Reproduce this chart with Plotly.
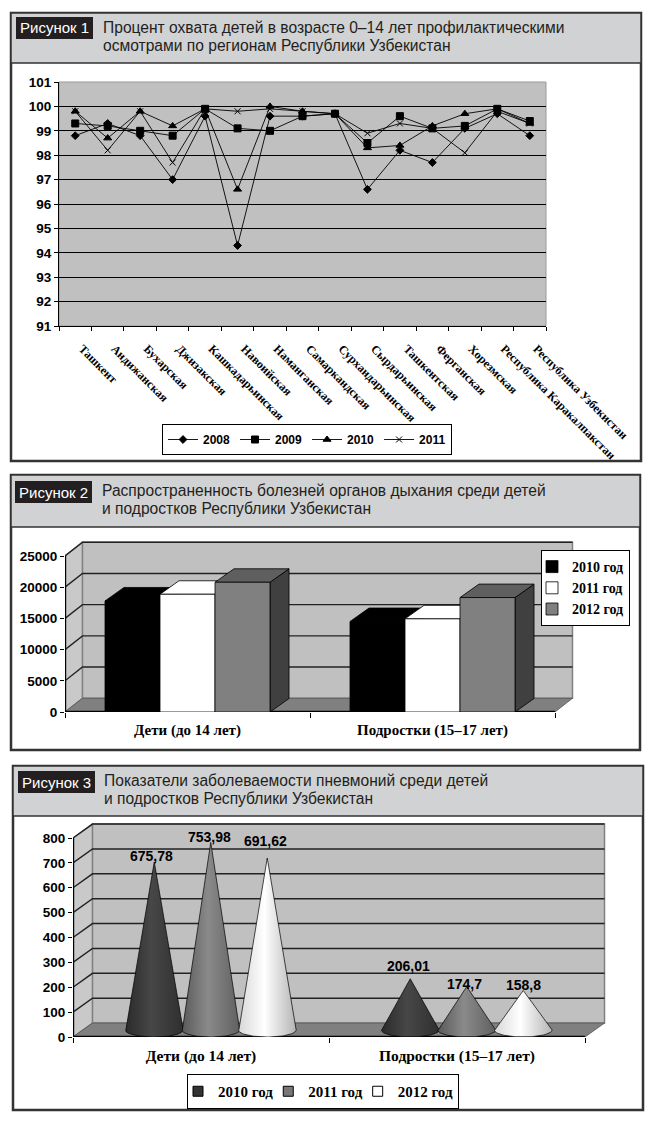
import numpy as np
import plotly.graph_objects as go

W, H = 651, 1121

# ---------- data ----------
regions = ["Ташкент", "Андижанская", "Бухарская", "Джизакская", "Кашкадарьинская",
           "Навоийская", "Наманганская", "Самаркандская", "Сурхандарьинская",
           "Сырдарьинская", "Ташкентская", "Ферганская", "Хорезмская",
           "Республика Каракалпакстан", "Республика Узбекистан"]
cov_2008 = [98.8, 99.3, 98.8, 97.0, 99.6, 94.3, 99.6, 99.6, 99.7, 96.6, 98.2, 97.7, 99.1, 99.7, 98.8]
cov_2009 = [99.3, 99.2, 99.0, 98.8, 99.9, 99.1, 99.0, 99.6, 99.7, 98.5, 99.6, 99.1, 99.2, 99.9, 99.4]
cov_2010 = [99.8, 98.7, 99.8, 99.2, 99.9, 96.6, 100.0, 99.8, 99.7, 98.3, 98.4, 99.2, 99.7, 99.9, 99.3]
cov_2011 = [99.8, 98.2, 99.8, 97.7, 99.9, 99.8, 99.9, 99.8, 99.7, 98.9, 99.3, 99.1, 98.1, 99.8, 99.3]
cov_ticks = list(range(91, 102))

groups = ["Дети (до 14 лет)", "Подростки (15–17 лет)"]
resp_2010 = [17800, 14500]
resp_2011 = [18870, 14930]
resp_2012 = [20790, 18340]
resp_ticks = [0, 5000, 10000, 15000, 20000, 25000]

pneu_2010 = [675.78, 206.01]
pneu_2011 = [753.98, 174.7]
pneu_2012 = [691.62, 158.8]
pneu_labels = [["675,78", "206,01"], ["753,98", "174,7"], ["691,62", "158,8"]]
pneu_ticks = list(range(0, 801, 100))

SANS = "Liberation Sans Narrow, Arial Narrow, Liberation Sans"
SERIF = "Liberation Serif"
HEADER = "#d1d2d4"
FRAME = "#333333"

def xd(a, b): return [a / W, b / W]
def yd(top, bottom): return [1 - bottom / H, 1 - top / H]

fig = go.Figure()
shapes, annos = [], []

# ---------- panels ----------
panels = [
    dict(box=(11, 13, 641, 461), head=63, badge=(16, 17, 93, 39), label="Рисунок 1",
         title=["Процент охвата детей в возрасте 0–14 лет профилактическими",
                "осмотрами по регионам Республики Узбекистан"], tx=101, ty=(28, 46)),
    dict(box=(11, 475, 640, 750), head=527, badge=(15, 481, 92, 503), label="Рисунок 2",
         title=["Распространенность болезней органов дыхания среди детей",
                "и подростков Республики Узбекистан"], tx=100, ty=(490, 509)),
    dict(box=(13, 766, 643, 1110), head=816, badge=(18, 771, 95, 793), label="Рисунок 3",
         title=["Показатели заболеваемости пневмоний среди детей",
                "и подростков Республики Узбекистан"], tx=102, ty=(780, 798)),
]
def rect(x0, y0, x1, y1, fill, line=None, lw=0):
    shapes.append(dict(type="rect", xref="paper", yref="paper", layer="below",
                       x0=x0 / W, x1=x1 / W, y0=1 - y0 / H, y1=1 - y1 / H,
                       fillcolor=fill, line=dict(color=line or fill, width=lw)))
for p in panels:
    x0, y0, x1, y1 = p["box"]
    rect(x0, y0, x1, y1, "white", FRAME, 2.5)
    rect(x0, y0, x1, p["head"], HEADER, FRAME, 1.5)
    rect(*p["badge"], "#231f20")
    annos.append(dict(xref="paper", yref="paper", x=(p["badge"][0] + p["badge"][2]) / 2 / W,
                      y=1 - (p["badge"][1] + p["badge"][3]) / 2 / H, text=p["label"], showarrow=False,
                      font=dict(family=SANS, size=15, color="white"), xanchor="center", yanchor="middle"))
    for t, ty in zip(p["title"], p["ty"]):
        annos.append(dict(xref="paper", yref="paper", x=p["tx"] / W, y=1 - ty / H, text=t, showarrow=False,
                          font=dict(family=SANS, size=15.6, color="#231f20"), xanchor="left", yanchor="middle"))

# ---------- figure 1 ----------
shapes.append(dict(type="rect", xref="x domain", yref="y domain", x0=0, x1=1, y0=0, y1=1,
                   fillcolor="#c0c0c0", line=dict(color="#999999", width=1), layer="below"))
for name, vals, sym, size in [("2008", cov_2008, "diamond", 6), ("2009", cov_2009, "square", 7),
                              ("2010", cov_2010, "triangle-up", 7), ("2011", cov_2011, "x-thin", 6)]:
    fig.add_trace(go.Scatter(x=list(range(len(regions))), y=vals, name=name, mode="lines+markers",
                             line=dict(color="black", width=0.9),
                             marker=dict(symbol=sym, size=size, color="black",
                                         line=dict(color="black", width=1)),
                             xaxis="x", yaxis="y", legend="legend"))

# ---------- helpers for faux 3-D ----------
def poly(xs, ys, fill, line="black", lw=0.8, xa="x2", ya="y2", **kw):
    fig.add_trace(go.Scatter(x=list(xs) + [xs[0]], y=list(ys) + [ys[0]], mode="lines", fill="toself",
                             fillcolor=fill, line=dict(color=line, width=lw), showlegend=False,
                             hoverinfo="skip", xaxis=xa, yaxis=ya, **kw))
def seg(xs, ys, color="#222222", lw=1.4, xa="x2", ya="y2"):
    fig.add_trace(go.Scatter(x=xs, y=ys, mode="lines", line=dict(color=color, width=lw), showlegend=False,
                             hoverinfo="skip", xaxis=xa, yaxis=ya))

def room(ticks, top, dx, dy, xa, ya):
    poly([0, dx, dx, 0], [0, dy, top + dy, top], "#c9c9c9", "#808080", 1.2, xa, ya)
    poly([dx, 2 + dx, 2 + dx, dx], [dy, dy, top + dy, top + dy], "#c0c0c0", "#808080", 1.5, xa, ya)
    for t in ticks[1:]:
        seg([0, dx, 2 + dx], [t, t + dy, t + dy], "#222222", 1.4, xa, ya)
    poly([0, 2, 2 + dx, dx], [0, 0, dy, dy], "#808080", "#555555", 0.8, xa, ya)
    seg([0, 0], [0, top], "black", 2.4, xa, ya)
    seg([0, 2], [0, 0], "black", 2.4, xa, ya)

# ---------- figure 2 ----------
R_DX, R_DY = 0.0714, 2200
B_DX, B_DY, B_W = 0.0776, 2160, 0.2245
room(resp_ticks, 25000, R_DX, R_DY, "x2", "y2")
series2 = [("2010 год", resp_2010, "black", "black", "black"),
           ("2011 год", resp_2011, "white", "white", "white"),
           ("2012 год", resp_2012, "#808080", "#5f5f5f", "#404040")]
for k, (name, vals, front, topc, sidec) in enumerate(series2):
    for g, v in enumerate(vals):
        left = g + 0.5 + (k - 1.5) * B_W
        right = left + B_W
        poly([right, right + B_DX, right + B_DX, right], [0, B_DY, v + B_DY, v], sidec)
        poly([left, right, right + B_DX, left + B_DX], [v, v, v + B_DY, v + B_DY], topc)
for k, (name, vals, front, topc, sidec) in enumerate(series2):
    fig.add_trace(go.Bar(x=[0.5, 1.5], y=vals, name=name, width=B_W,
                         marker=dict(color=front, line=dict(color="black", width=0.8)),
                         offset=(k - 1.5) * B_W, xaxis="x3", yaxis="y3", legend="legend2"))

# ---------- figure 3 ----------
P_DX, P_DY = 0.0762, 56
C_STEP, C_HALF, C_BASE, C_ELL = 0.2207, 0.113, 28, 28
room(pneu_ticks, 800, P_DX, P_DY, "x4", "y4")
t = np.linspace(0, np.pi, 41)
scales = [["#2b2b2b", "#474747", "#2f2f2f"], ["#5a5a5a", "#8a8a8a", "#606060"], ["#d8d8d8", "#ffffff", "#b4b4b4"]]
label_up = [[-4, 3], [-5, -7], [7, -4]]
label_dx = [[-3, -2], [-1, -2], [-2, 0]]
series3 = [("2010 год", pneu_2010, "#333333"), ("2011 год", pneu_2011, "#777777"), ("2012 год", pneu_2012, "#ffffff")]
for k, (name, vals, col) in enumerate(series3):
    for g, v in enumerate(vals):
        c = g + 0.5 + P_DX / 2 + (k - 1) * C_STEP
        ex = c - C_HALF * np.cos(t)
        ey = C_BASE - C_ELL * np.sin(t)
        xs = [c] + list(ex)
        ys = [v + C_BASE] + list(ey)
        cs = scales[k]
        fig.add_trace(go.Scatter(x=xs + [c], y=ys + [v + C_BASE], mode="lines", fill="toself",
                                 fillgradient=dict(type="horizontal",
                                                   colorscale=[[0, cs[0]], [0.45, cs[1]], [1, cs[2]]]),
                                 line=dict(color="black", width=0.7), showlegend=False, hoverinfo="skip",
                                 xaxis="x4", yaxis="y4"))
        annos.append(dict(xref="x4", yref="y4", x=c, y=v + C_BASE, text=pneu_labels[k][g], showarrow=False,
                          xanchor="center", yanchor="bottom", yshift=label_up[k][g], xshift=label_dx[k][g],
                          font=dict(family=SANS, size=14, color="black", weight="bold")))
for name, vals, col in series3:
    fig.add_trace(go.Scatter(x=[None], y=[None], mode="markers", name=name, xaxis="x4", yaxis="y4", legend="legend3",
                             marker=dict(symbol="square", size=10, color=col, line=dict(color="black", width=1))))

# ---------- layout ----------
tickfont = dict(family=SANS, size=13.5, color="black", weight="bold")
def val_axis(domain, rng, ticks, anchor, **kw):
    return dict(domain=domain, range=rng, tickvals=ticks, ticktext=[str(v) for v in ticks], ticks="outside",
                ticklen=4, tickcolor="black", showgrid=False, zeroline=False, showline=False, anchor=anchor,
                tickfont=tickfont, fixedrange=True, **kw)
def cat_axis(domain, rng, anchor, size):
    return dict(domain=domain, range=rng, tickvals=[0.5, 1.5], ticktext=groups, ticks="", showgrid=False,
                zeroline=False, showline=False, anchor=anchor, fixedrange=True,
                tickfont=dict(family=SERIF, size=size, color="black", weight="bold"), ticklabelstandoff=7,
                minor=dict(ticks="outside", tick0=0, dtick=1, ticklen=5, tickcolor="black"))

X2_RANGE = [0, 2 * 510 / 490]
Y2_RANGE = [0, 25000 * 172 / 156]
X4_RANGE = [0, 2 * 535 / 512]
Y4_RANGE = [0, 800 * 216 / 199]

fig.update_layout(
    width=W, height=H, margin=dict(l=0, r=0, t=0, b=0, autoexpand=False), paper_bgcolor="white",
    plot_bgcolor="rgba(0,0,0,0)", shapes=shapes, annotations=annos, barmode="overlay", hovermode=False,
    xaxis=dict(domain=xd(59, 546), range=[-0.5, 14.5], tickvals=list(range(15)), ticktext=regions, tickangle=45,
               ticks="", showgrid=False, zeroline=False, showline=True, linecolor="black", anchor="y", fixedrange=True,
               tickfont=dict(family=SERIF, size=12, color="black", weight="bold"), ticklabelstandoff=10,
               ticklabelshift=7,
               minor=dict(ticks="outside", tick0=-0.5, dtick=1, ticklen=4, tickcolor="black")),
    yaxis=dict(domain=yd(82, 326), range=[91, 101], tickvals=cov_ticks, ticks="outside", ticklen=4, tickcolor="black",
               showgrid=True, gridcolor="black", gridwidth=1, zeroline=False, showline=True, linecolor="black",
               anchor="x", tickfont=tickfont, fixedrange=True),
    xaxis2=cat_axis(xd(65, 575), X2_RANGE, "y2", 15),
    yaxis2=val_axis(yd(540, 712), Y2_RANGE, resp_ticks, "x2"),
    xaxis3=dict(domain=xd(65, 575), range=X2_RANGE, overlaying="x2", visible=False, anchor="y3", fixedrange=True),
    yaxis3=dict(domain=yd(540, 712), range=Y2_RANGE, overlaying="y2", visible=False, anchor="x3", fixedrange=True),
    xaxis4=cat_axis(xd(73, 608), X4_RANGE, "y4", 15.5),
    yaxis4=val_axis(yd(821, 1037), Y4_RANGE, pneu_ticks, "x4"),
    legend=dict(x=162 / W, y=1 - 424 / H, xanchor="left", yanchor="top", orientation="h", bgcolor="white",
                bordercolor="black", borderwidth=1, font=dict(family=SANS, size=12, color="black", weight="bold"),
                tracegroupgap=0),
    legend2=dict(x=541 / W, y=1 - 550 / H, xanchor="left", yanchor="top", bgcolor="white", bordercolor="black",
                 borderwidth=1, font=dict(family=SERIF, size=14, color="black", weight="bold"), indentation=-10,
                 traceorder="normal", itemwidth=30),
    legend3=dict(x=187 / W, y=1 - 1074 / H, xanchor="left", yanchor="top", orientation="h", bgcolor="white",
                 bordercolor="black", borderwidth=1, font=dict(family=SERIF, size=15, color="black", weight="bold"),
                 indentation=-10, itemwidth=30),
    showlegend=True,
)
fig.write_html("out.html", config=dict(displayModeBar=False), post_script="document.body.style.margin='0';")
